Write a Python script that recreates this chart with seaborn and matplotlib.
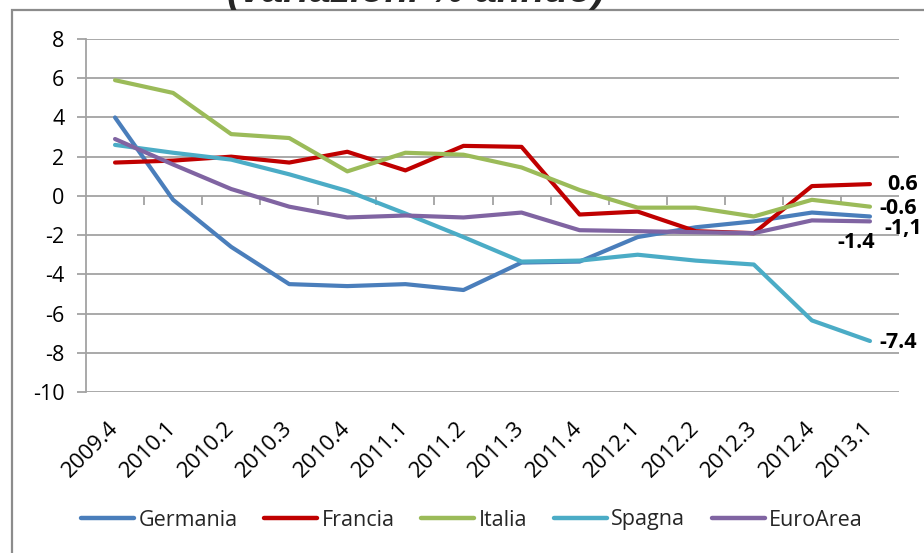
import numpy as np
import pandas as pd
import matplotlib
matplotlib.use("Agg")
import matplotlib.pyplot as plt
import seaborn as sns
from matplotlib.patches import Rectangle
from matplotlib.lines import Line2D

# ---------------- data ----------------
quarters = ["2009.4", "2010.1", "2010.2", "2010.3", "2010.4", "2011.1", "2011.2",
            "2011.3", "2011.4", "2012.1", "2012.2", "2012.3", "2012.4", "2013.1"]
series_names = ["Germania", "Francia", "Italia", "Spagna", "EuroArea"]
germania = [4.0, -0.2, -2.6, -4.5, -4.6, -4.5, -4.8, -3.4, -3.35, -2.1, -1.6, -1.3, -0.85, -1.05]
francia = [1.7, 1.8, 2.0, 1.7, 2.25, 1.3, 2.55, 2.5, -0.95, -0.8, -1.8, -1.9, 0.5, 0.6]
italia = [5.9, 5.25, 3.15, 2.95, 1.25, 2.2, 2.1, 1.45, 0.3, -0.6, -0.6, -1.05, -0.2, -0.55]
spagna = [2.6, 2.2, 1.85, 1.1, 0.25, -0.9, -2.1, -3.35, -3.3, -3.0, -3.3, -3.5, -6.35, -7.4]
euroarea = [2.9, 1.6, 0.35, -0.55, -1.1, -1.0, -1.1, -0.85, -1.75, -1.8, -1.85, -1.9, -1.25, -1.3]
end_labels = ["-1,1", "0.6", "-0.6", "-7.4", "-1.4"]
title = "(variazioni % annuo)"

colors = ["#4A7EBB", "#C00000", "#9BBB59", "#4BACC6", "#8064A2"]
# label offsets in pixels (dx, dy) relative to last point
label_offsets_px = [(14, -12), (17, 0), (9, -2), (9, -1), (-33, -21)]

all_series = [germania, francia, italia, spagna, euroarea]
df = pd.DataFrame({
    "quarter": quarters * len(series_names),
    "pos": list(range(len(quarters))) * len(series_names),
    "value": sum(all_series, []),
    "series": np.repeat(series_names, len(quarters)),
})

grid_col = "#a3a3a3"
sns.set_style("white")
plt.rcParams["font.family"] = ["Open Sans", "DejaVu Sans"]
plt.rcParams["axes.unicode_minus"] = False
plt.rcParams["ytick.left"] = True
plt.rcParams["ytick.major.size"] = 6.5
plt.rcParams["ytick.major.width"] = 1.3
plt.rcParams["ytick.color"] = grid_col
plt.rcParams["ytick.labelcolor"] = "black"

W, H = 924, 553
fig = plt.figure(figsize=(W / 100, H / 100), dpi=100)
ax = fig.add_axes([86 / W, 1 - 392 / H, (899 - 86) / W, (392 - 39) / H])

palette = dict(zip(series_names, colors))
sns.lineplot(data=df, x="pos", y="value", hue="series", hue_order=series_names,
             palette=palette, linewidth=3, ax=ax, legend=False, sort=False,
             solid_capstyle="round")

ymin, ymax = -10, 8
ax.set_xlim(-0.5, len(quarters) - 0.5)
ax.set_ylim(ymin, ymax)
ax.set_yticks(range(ymin, ymax + 1, 2))
ax.yaxis.grid(True, color=grid_col, lw=1.3)
ax.xaxis.grid(False)
for s in ["top", "right", "bottom"]:
    ax.spines[s].set_visible(False)
ax.spines["left"].set_color(grid_col)
ax.spines["left"].set_linewidth(1.3)
ax.set_xlabel("")
ax.set_ylabel("")

ax.tick_params(axis="y", left=True, length=6.5, width=1.3, color=grid_col, pad=9,
               labelsize=15.5, direction="out", labelcolor="black")
ax.set_xticks(range(len(quarters)))
ax.set_xticklabels(quarters, rotation=45, ha="right", va="center", rotation_mode="anchor")
ax.tick_params(axis="x", length=0, pad=24, labelsize=16, labelcolor="black")

# category-separator tick marks on the zero line
sec = ax.secondary_xaxis((0 - ymin) / (ymax - ymin))
sec.set_alignment("bottom")
sec.spines["bottom"].set_visible(False)
sec.set_xticks(np.arange(0.5, len(quarters) - 1, 1.0))
sec.set_xticklabels([])
sec.tick_params(axis="x", length=6.5, width=1.3, color=grid_col, direction="out")

# end labels
for vals, lab, (dx, dy) in zip(all_series, end_labels, label_offsets_px):
    ax.annotate(lab, xy=(len(quarters) - 1, vals[-1]), xytext=(dx * 0.72, dy * 0.72),
                textcoords="offset points", ha="left", va="center",
                fontsize=15.5, fontweight="bold", color="black", annotation_clip=False)

# legend
handles = [Line2D([], [], color=c, lw=3.2, solid_capstyle="round") for c in colors]
fig.legend(handles, series_names, loc="center", bbox_to_anchor=(472 / W, 1 - 520 / H),
           ncol=5, frameon=False, fontsize=15.5, handlelength=2.45, handletextpad=0.2,
           columnspacing=1.25)

# outer frame and clipped title
fig.patches.append(Rectangle((12 / W, -0.5), 2, 1 - 10 / H + 0.5, transform=fig.transFigure,
                             fill=False, edgecolor="#8c8c8c", lw=1.6))
fig.text(416 / W, 1 - 2 / H, title, ha="center", va="baseline", fontsize=28,
         fontweight="bold", fontstyle="italic", family="Liberation Sans")

fig.savefig("out.png", dpi=100)
